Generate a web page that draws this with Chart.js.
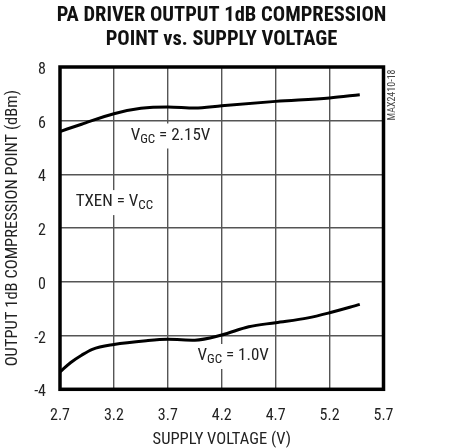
<!DOCTYPE html>
<html>
<head>
<meta charset="utf-8">
<script src="https://cdn.jsdelivr.net/npm/chart.js@4/dist/chart.umd.min.js"></script>
<style>
  html, body { margin: 0; padding: 0; background: #fff; }
  #wrap { width: 457px; height: 448px; }
</style>
</head>
<body>
<div id="wrap"><canvas id="c" width="457" height="448"></canvas></div>
<script>
// ---- data ----
const titleLines = ['PA DRIVER OUTPUT 1dB COMPRESSION', 'POINT vs. SUPPLY VOLTAGE'];
const xAxisTitle = 'SUPPLY VOLTAGE (V)';
const yAxisTitle = 'OUTPUT 1dB COMPRESSION POINT (dBm)';
const xTicks = [2.7, 3.2, 3.7, 4.2, 4.7, 5.2, 5.7];
const yTicks = [-4, -2, 0, 2, 4, 6, 8];

const vccHigh = [2.7, 2.9, 3.2, 3.45, 3.7, 3.95, 4.2, 4.7, 5.2, 5.48];
const p1dbHigh = [5.6, 5.87, 6.26, 6.46, 6.51, 6.47, 6.56, 6.72, 6.85, 6.97];

const vccLow = [2.7, 2.8, 2.9, 3.0, 3.2, 3.5, 3.7, 3.95, 4.2, 4.45, 4.7, 5.0, 5.2, 5.48];
const p1dbLow = [-3.35, -3.0, -2.73, -2.51, -2.33, -2.19, -2.14, -2.17, -1.98, -1.67, -1.52, -1.34, -1.15, -0.84];

const curveLabels = [
  { x: 3.355, y: 5.45, main: 'V', sub: 'GC', rest: ' = 2.15V' },
  { x: 2.845, y: 2.97, main: 'TXEN = V', sub: 'CC', rest: '' },
  { x: 3.975, y: -2.76, main: 'V', sub: 'GC', rest: ' = 1.0V' }
];
const partNumber = 'MAX2410-18';

// ---- chart ----
const FONT = "'Roboto Condensed', 'Liberation Sans', Arial, sans-serif";
Chart.defaults.font.family = FONT;
Chart.defaults.color = '#222';

function pts(xs, ys) { return xs.map((x, i) => ({ x: x, y: ys[i] })); }

const annotPlugin = {
  id: 'annot',
  beforeDatasetsDraw(chart) {
    const ctx = chart.ctx;
    const a = chart.chartArea;
    ctx.save();
    const xs = chart.scales.x, ys = chart.scales.y;
    curveLabels.forEach(l => {
      const px = xs.getPixelForValue(l.x);
      const py = ys.getPixelForValue(l.y);
      ctx.font = '17px ' + FONT;
      const w1 = ctx.measureText(l.main).width;
      ctx.font = '13px ' + FONT;
      const w2 = ctx.measureText(l.sub).width;
      ctx.font = '17px ' + FONT;
      const w3 = ctx.measureText(l.rest).width;
      const tw = w1 + w2 + w3;
      ctx.fillStyle = '#fff';
      ctx.fillRect(px - 3, py - 12, tw + 6, 25);
      ctx.fillStyle = '#222';
      ctx.textBaseline = 'middle';
      ctx.textAlign = 'left';
      ctx.font = '17px ' + FONT;
      ctx.fillText(l.main, px, py);
      ctx.font = '13px ' + FONT;
      ctx.fillText(l.sub, px + w1, py + 4);
      ctx.font = '17px ' + FONT;
      ctx.fillText(l.rest, px + w1 + w2, py);
    });
    ctx.strokeStyle = '#000';
    ctx.lineWidth = 3.5;
    ctx.strokeRect(a.left, a.top, a.right - a.left, a.bottom - a.top);
    ctx.restore();
  },
  afterDraw(chart) {
    const ctx = chart.ctx;
    const a = chart.chartArea;
    ctx.save();
    ctx.translate(a.right + 9, a.top + 28);
    ctx.rotate(-Math.PI / 2);
    ctx.font = '10px ' + FONT;
    ctx.fillStyle = '#444';
    ctx.textAlign = 'center';
    ctx.textBaseline = 'middle';
    ctx.fillText(partNumber, 0, 0);
    ctx.restore();
  }
};

new Chart(document.getElementById('c'), {
  type: 'line',
  data: {
    datasets: [
      { data: pts(vccHigh, p1dbHigh), borderColor: '#000', borderWidth: 3, pointRadius: 0, tension: 0.4, cubicInterpolationMode: 'monotone', fill: false },
      { data: pts(vccLow, p1dbLow), borderColor: '#000', borderWidth: 3, pointRadius: 0, tension: 0.4, cubicInterpolationMode: 'monotone', fill: false }
    ]
  },
  options: {
    responsive: false,
    animation: false,
    layout: { padding: { left: 30, right: 44, top: 0, bottom: 0 } },
    plugins: {
      legend: { display: false },
      tooltip: { enabled: false },
      title: {
        display: true,
        text: titleLines,
        color: '#111',
        font: { size: 20.5, weight: 'bold', lineHeight: 24 / 20.5 },
        padding: { top: 4, bottom: 15 }
      }
    },
    scales: {
      x: {
        type: 'linear',
        min: 2.7, max: 5.7,
        afterBuildTicks(s) { s.ticks = xTicks.map(v => ({ value: v })); },
        afterFit(s) { s.height = 58.7; },
        ticks: { font: { size: 16 }, padding: 17, color: '#222', callback: v => Number(v).toFixed(1) },
        grid: { color: '#555', lineWidth: 1.4, drawTicks: false },
        border: { display: false },
        title: { display: true, text: xAxisTitle, font: { size: 16.5, lineHeight: 1 }, color: '#222', padding: { top: 0, bottom: 0 } }
      },
      y: {
        type: 'linear',
        min: -4, max: 8,
        afterBuildTicks(s) { s.ticks = yTicks.map(v => ({ value: v })); },
        afterFit(s) { s.width = 30; },
        ticks: { font: { size: 16 }, padding: 14, labelOffset: 3, color: '#222' },
        grid: { color: '#555', lineWidth: 1.4, drawTicks: false },
        border: { display: false },
        title: { display: true, text: yAxisTitle, font: { size: 16.5, lineHeight: 1.2 }, color: '#222', padding: { top: -27.5, bottom: 0 } }
      },
      yr: {
        type: 'linear',
        position: 'right',
        display: true,
        afterFit(s) { s.width = 29.5; },
        ticks: { display: false },
        grid: { display: false, drawTicks: false },
        border: { display: false }
      }
    }
  },
  plugins: [annotPlugin]
});
</script>
</body>
</html>
